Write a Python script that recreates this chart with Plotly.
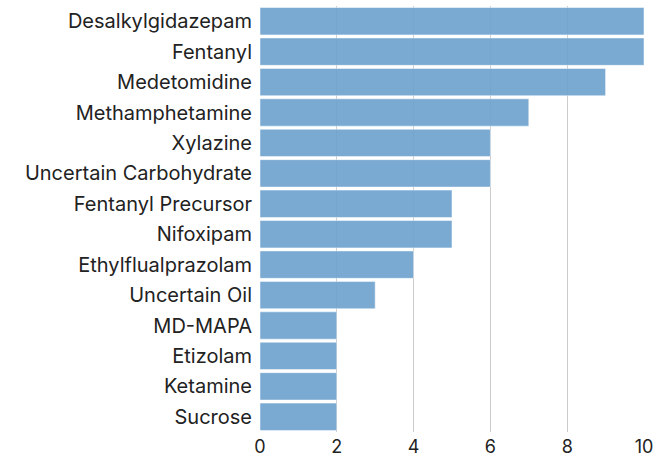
import plotly.graph_objects as go

substances = ["Desalkylgidazepam", "Fentanyl", "Medetomidine", "Methamphetamine",
              "Xylazine", "Uncertain Carbohydrate", "Fentanyl Precursor", "Nifoxipam",
              "Ethylflualprazolam", "Uncertain Oil", "MD-MAPA", "Etizolam", "Ketamine", "Sucrose"]
counts = [10, 10, 9, 7, 6, 6, 5, 5, 4, 3, 2, 2, 2, 2]
x_ticks = [0, 2, 4, 6, 8, 10]

fig = go.Figure(go.Bar(
    x=counts, y=substances, orientation="h",
    marker=dict(color="#6fa3cf", opacity=0.92, line=dict(color="white", width=0.5)),
))
fig.update_layout(
    width=666, height=458,
    margin=dict(l=260, r=22, t=6, b=26),
    paper_bgcolor="white", plot_bgcolor="white",
    font=dict(family="Inter, Lato, sans-serif", size=20, color="#222"),
    bargap=0.1, showlegend=False,
)
fig.update_xaxes(range=[0, 10], tickvals=x_ticks, showgrid=True, gridcolor="#cccccc",
                 gridwidth=1, zeroline=False, showline=False, ticks="", tickfont=dict(size=18),
                 automargin=False, ticklabelstandoff=2)
fig.update_yaxes(autorange="reversed", showgrid=False, ticks="", ticklabelstandoff=7,
                 automargin=False)
fig.write_html("out.html", config={"displayModeBar": False},
               post_script="document.body.style.margin='0';")
